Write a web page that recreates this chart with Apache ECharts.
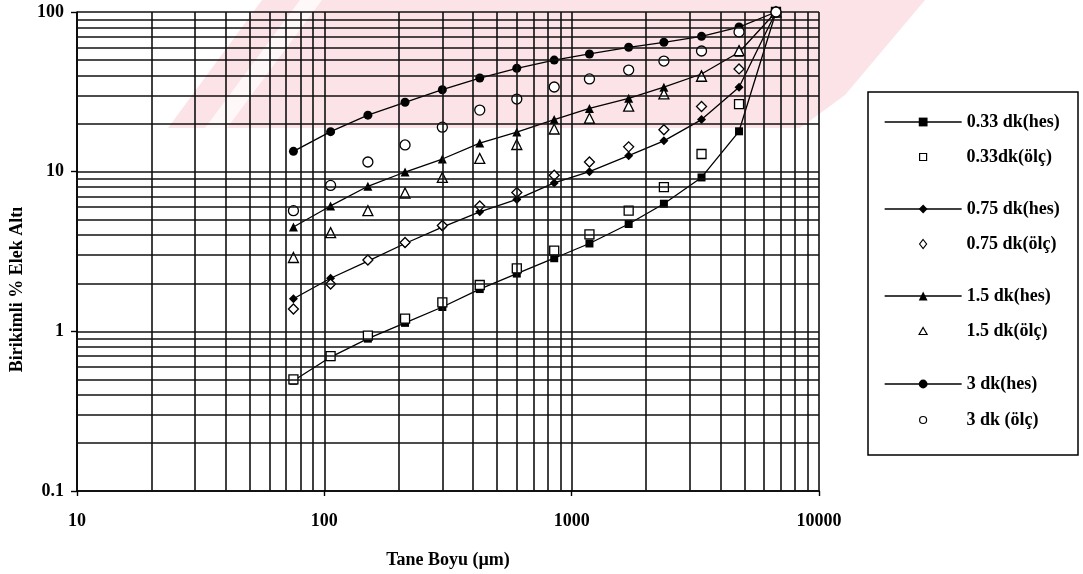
<!DOCTYPE html>
<html>
<head>
<meta charset="utf-8">
<script src="https://cdn.jsdelivr.net/npm/echarts@6/dist/echarts.min.js"></script>
<style>
html, body { margin: 0; padding: 0; background: #fff; }
#chart { width: 1083px; height: 574px; }
</style>
</head>
<body>
<div id="chart"></div>
<script>
// Sieve sizes (µm)
const sizes = [75, 106, 150, 212, 300, 425, 600, 850, 1180, 1700, 2360, 3350, 4750, 6700];

// Cumulative % passing: calculated (hes) and measured (ölç)
const hes033 = [0.49, 0.69, 0.90, 1.13, 1.42, 1.84, 2.30, 2.87, 3.55, 4.70, 6.30, 9.20, 17.9, 100];
const olc033 = [0.50, 0.70, 0.94, 1.20, 1.52, 1.95, 2.48, 3.20, 4.05, 5.70, 8.00, 12.9, 26.5, 100];
const hes075 = [1.60, 2.15, 2.75, 3.55, 4.50, 5.60, 6.70, 8.50, 10.0, 12.6, 15.6, 21.2, 33.8, 100];
const olc075 = [1.38, 1.98, 2.80, 3.60, 4.60, 6.10, 7.40, 9.50, 11.5, 14.3, 18.3, 25.6, 44.0, 100];
const hes15  = [4.50, 6.10, 8.10, 9.95, 12.0, 15.1, 17.7, 21.2, 24.9, 28.8, 33.8, 40.9, 56.0, 100];
const olc15  = [2.90, 4.15, 5.70, 7.35, 9.20, 12.1, 14.8, 18.5, 21.6, 25.7, 30.7, 39.6, 57.3, 100];
const hes3   = [13.4, 17.8, 22.6, 27.2, 32.6, 38.6, 44.4, 50.0, 54.6, 60.1, 64.6, 70.4, 80.5, 100];
const olc3   = [5.70, 8.20, 11.5, 14.7, 19.0, 24.3, 28.5, 33.9, 38.1, 43.3, 49.3, 57.0, 75.0, 100];

const seriesNames = ['0.33 dk(hes)', '0.33dk(ölç)', '0.75 dk(hes)', '0.75 dk(ölç)',
                     '1.5 dk(hes)', '1.5 dk(ölç)', '3 dk(hes)', '3 dk (ölç)'];

// Axis ticks and log-paper subdivisions
const xTicks = [10, 100, 1000, 10000];
const yTicks = [0.1, 1, 10, 100];
const minorSteps = [2, 3, 4, 5, 6, 7, 8, 9];
const xDecades = [10, 100, 1000];
const yDecades = [0.1, 1, 10];

const FONT = "'Liberation Serif', 'Times New Roman', serif";
const INK = '#000';

const pair = (ys) => sizes.map((x, i) => [x, ys[i]]);

const xMinor = [];
xDecades.forEach(d => minorSteps.forEach(s => xMinor.push(+(d * s).toPrecision(3))));
const yMinor = [];
yDecades.forEach(d => minorSteps.forEach(s => yMinor.push(+(d * s).toPrecision(3))));

const gridLineStyle = { color: '#111', width: 1.6, type: 'solid' };

function calcSeries(name, ys, symbol, size) {
  return {
    name, type: 'line', data: pair(ys), z: 3,
    symbol, symbolSize: size, showAllSymbol: true,
    lineStyle: { color: INK, width: 1.3 },
    itemStyle: { color: INK },
    emphasis: { disabled: true }
  };
}
function measSeries(name, ys, symbol, size) {
  return {
    name, type: 'scatter', data: pair(ys), z: 4,
    symbol, symbolSize: size,
    itemStyle: { color: '#fff', borderColor: INK, borderWidth: 1.3, opacity: 1 },
    emphasis: { disabled: true }
  };
}

// Legend: one entry per row, rows grouped in pairs
const rowCenters = [123, 158, 210, 245, 297, 332, 385, 421];
const openIcons = {
  '0.33dk(ölç)': 'path://M0,0M77,11M35,2L42,2L42,9L35,9Z',
  '0.75 dk(ölç)': 'path://M0,0M77,11M38.5,1L42,5.5L38.5,10L35,5.5Z',
  '1.5 dk(ölç)': 'path://M0,0M77,11M38.5,2L42.5,9L34.5,9Z',
  '3 dk (ölç)': 'path://M0,0M77,11M35,5.5A3.5,3.5,0,1,1,42,5.5A3.5,3.5,0,1,1,35,5.5Z'
};
const legends = seriesNames.map((name, i) => {
  const open = !!openIcons[name];
  const lg = {
    data: [open ? { name, icon: openIcons[name] } : { name }],
    left: 884, top: rowCenters[i] - 10,
    orient: 'vertical', padding: 0,
    itemWidth: 77, itemHeight: 11,
    selectedMode: false,
    textStyle: { fontFamily: FONT, fontWeight: 'bold', fontSize: 18, color: INK },
    lineStyle: { width: 1.3, color: INK }
  };
  lg.itemStyle = open ? { color: '#fff', borderColor: INK, borderWidth: 1.2 }
                      : { color: INK, borderWidth: 0 };
  return lg;
});

const option = {
  animation: false,
  backgroundColor: '#fff',
  textStyle: { fontFamily: FONT },
  grid: { left: 77, right: 264, top: 12, bottom: 83, containLabel: false },
  xAxis: {
    type: 'log', logBase: 10, min: xTicks[0], max: xTicks[xTicks.length - 1],
    name: 'Tane Boyu (µm)', nameLocation: 'middle', nameGap: 60,
    nameTextStyle: { fontFamily: FONT, fontWeight: 'bold', fontSize: 18, color: INK },
    axisLine: { lineStyle: { color: INK, width: 1.6 } },
    axisTick: { show: true, length: 5, lineStyle: { color: INK, width: 1.4 } },
    axisLabel: { margin: 21, fontFamily: FONT, fontWeight: 'bold', fontSize: 18, color: INK,
                 formatter: v => String(v) },
    splitLine: { show: true, lineStyle: gridLineStyle },
    minorTick: { show: false }, minorSplitLine: { show: false }
  },
  yAxis: {
    type: 'log', logBase: 10, min: yTicks[0], max: yTicks[yTicks.length - 1],
    name: 'Birikimli % Elek Altı', nameLocation: 'middle', nameGap: 50,
    nameTextStyle: { fontFamily: FONT, fontWeight: 'bold', fontSize: 18, color: INK, padding: [0, 76, 0, 0] },
    axisLine: { show: true, lineStyle: { color: INK, width: 1.6 } },
    axisTick: { show: true, length: 6, lineStyle: { color: INK, width: 1.4 } },
    axisLabel: { margin: 13, fontFamily: FONT, fontWeight: 'bold', fontSize: 18, color: INK,
                 formatter: v => String(v) },
    splitLine: { show: true, lineStyle: gridLineStyle },
    minorTick: { show: false }, minorSplitLine: { show: false }
  },
  legend: legends,
  graphic: [
    // faint red watermark behind the plot
    { type: 'polygon', z: -5, silent: true,
      shape: { points: [[168, 128], [262, 0], [925, 0], [845, 95], [800, 128]] },
      style: { fill: '#fbe3e7' } },
    { type: 'polygon', z: -4, silent: true,
      shape: { points: [[205, 128], [300, 0], [322, 0], [227, 128]] },
      style: { fill: 'rgba(255,255,255,0.75)' } },
    // legend frame
    { type: 'rect', z: 1, silent: true,
      shape: { x: 868, y: 92, width: 210, height: 363 },
      style: { fill: '#fff', stroke: INK, lineWidth: 1.5 } }
  ],
  series: [
    {
      name: 'log-grid', type: 'line', data: [], z: 1, silent: true,
      markLine: {
        silent: true, symbol: 'none', animation: false,
        label: { show: false },
        lineStyle: gridLineStyle,
        emphasis: { disabled: true },
        data: xMinor.map(v => ({ xAxis: v })).concat(yMinor.map(v => ({ yAxis: v })))
      }
    },
    calcSeries(seriesNames[0], hes033, 'rect', 8),
    measSeries(seriesNames[1], olc033, 'rect', 9),
    calcSeries(seriesNames[2], hes075, 'diamond', 9),
    measSeries(seriesNames[3], olc075, 'diamond', 10),
    calcSeries(seriesNames[4], hes15, 'triangle', 9),
    measSeries(seriesNames[5], olc15, 'triangle', 10),
    calcSeries(seriesNames[6], hes3, 'circle', 9),
    measSeries(seriesNames[7], olc3, 'circle', 10)
  ]
};

const chart = echarts.init(document.getElementById('chart'), null, { renderer: 'canvas' });
chart.setOption(option);
</script>
</body>
</html>
